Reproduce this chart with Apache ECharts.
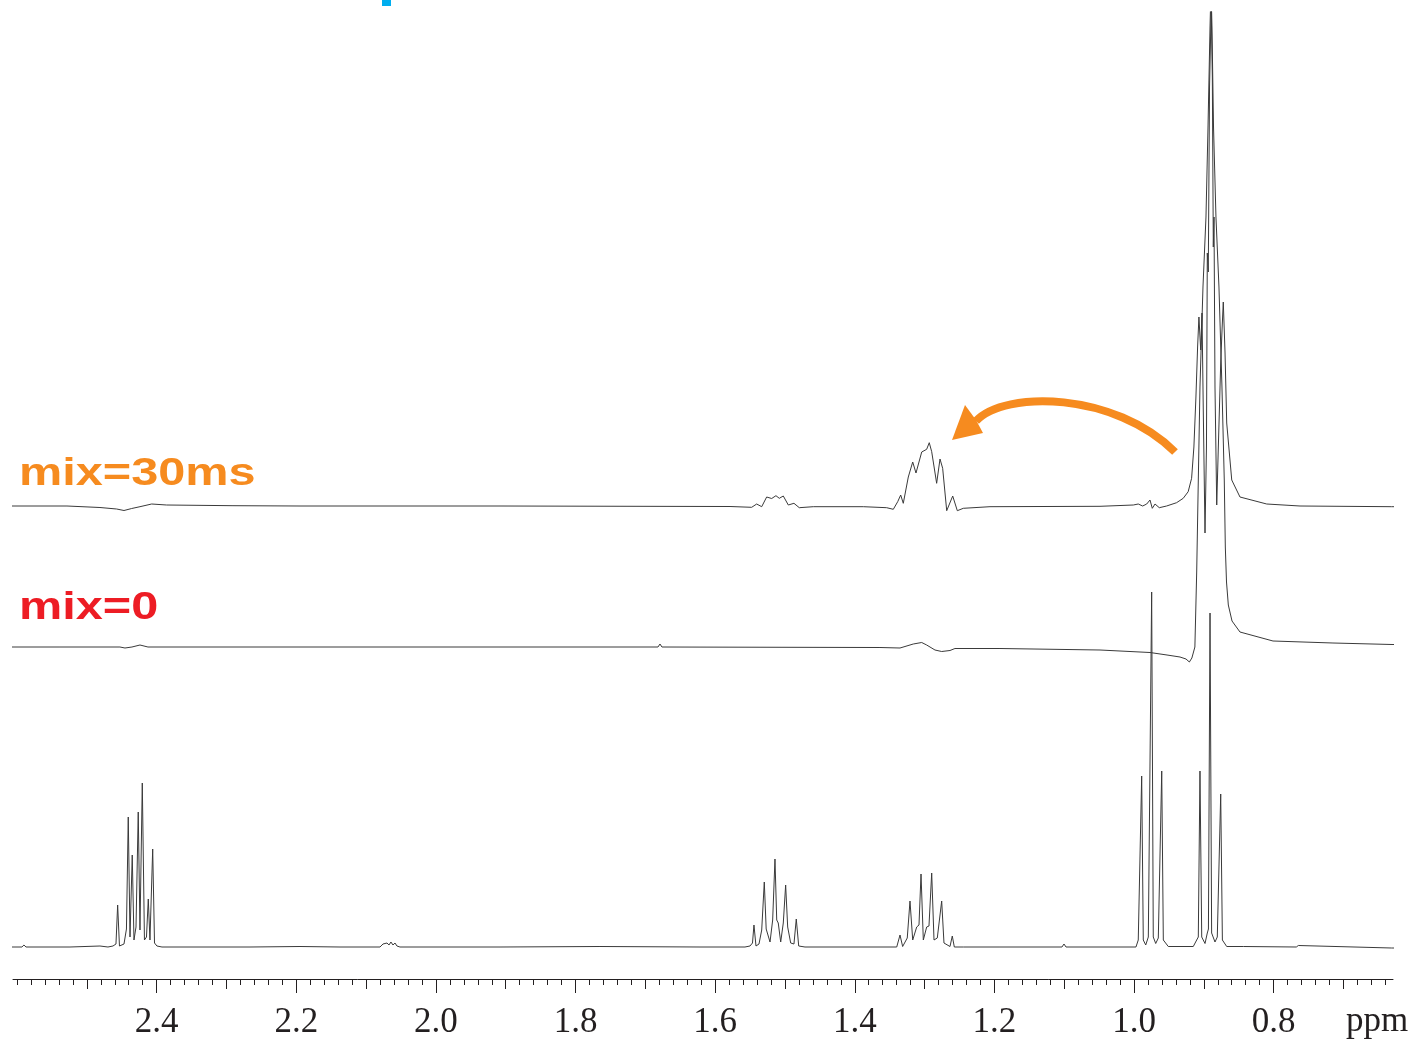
<!DOCTYPE html>
<html>
<head>
<meta charset="utf-8">
<title>Selective TOCSY stack</title>
<script src="https://cdn.jsdelivr.net/npm/echarts@6/dist/echarts.min.js"></script>
<style>
  html, body { margin: 0; padding: 0; background: #ffffff; }
  #chart { width: 1418px; height: 1044px; }
</style>
</head>
<body>
<div id="chart"></div>
<script>
// Chemical-shift axis (ppm), drawn high -> low from left to right
const ppmMin = 0.6290;
const ppmMax = 2.6058;
const majorTicks = [2.4, 2.2, 2.0, 1.8, 1.6, 1.4, 1.2, 1.0, 0.8];
const mediumTicks = [2.5, 2.3, 2.1, 1.9, 1.7, 1.5, 1.3, 1.1, 0.9, 0.7];
const minorTicks = [2.60,2.58,2.56,2.54,2.52,2.50,2.48,2.46,2.44,2.42,2.40,2.38,2.36,2.34,2.32,2.30,2.28,2.26,2.24,2.22,
  2.20,2.18,2.16,2.14,2.12,2.10,2.08,2.06,2.04,2.02,2.00,1.98,1.96,1.94,1.92,1.90,1.88,1.86,1.84,1.82,
  1.80,1.78,1.76,1.74,1.72,1.70,1.68,1.66,1.64,1.62,1.60,1.58,1.56,1.54,1.52,1.50,1.48,1.46,1.44,1.42,
  1.40,1.38,1.36,1.34,1.32,1.30,1.28,1.26,1.24,1.22,1.20,1.18,1.16,1.14,1.12,1.10,1.08,1.06,1.04,1.02,
  1.00,0.98,0.96,0.94,0.92,0.90,0.88,0.86,0.84,0.82,0.80,0.78,0.76,0.74,0.72,0.70,0.68,0.66,0.64];

// Trace labels
const labelMix30 = 'mix=30ms';
const labelMix0 = 'mix=0';
const axisUnit = 'ppm';

// Selective TOCSY, 30 ms mixing: [ppm, intensity]
const traceMix30 = [
  [2.6173,1],[2.5285,1],[2.4812,-0.5],[2.4573,-2],[2.4468,-3.5],[2.4358,-1.5],[2.4239,0.3],[2.4072,3],
  [2.3857,2],[2.2907,1.3],[2.1947,1],[1.9082,1],[1.5787,0.5],[1.5477,-0.3],[1.5405,3],[1.5333,0.3],
  [1.5262,10],[1.5190,8.5],[1.5129,11.3],[1.5081,8.7],[1.5024,11],[1.4952,2],[1.4871,3.7],[1.4795,-0.7],
  [1.4594,0.3],[1.3878,0.3],[1.3543,-0.7],[1.3448,-2.3],[1.3385,5.3],[1.3342,12],[1.3305,3.7],[1.3233,30],
  [1.3170,45],[1.3123,34],[1.3041,55],[1.2970,57.7],[1.2933,64.3],[1.2898,55.3],[1.2827,23.7],[1.2779,48],
  [1.2741,38.7],[1.2683,-3.7],[1.2597,11],[1.2531,-3.7],[1.2445,-1.3],[1.2063,0.3],[1.0487,0.7],[1.0010,2],
  [0.9939,3],[0.9914,5],[0.9876,1],[0.9818,3],[0.9771,7],[0.9738,-1.3],[0.9699,3],[0.9638,-0.7],
  [0.9533,1],[0.9390,4.3],[0.9295,8.7],[0.9224,15.3],[0.9175,28.7],[0.9142,60],[0.9113,110],[0.9089,160],
  [0.9070,190],[0.9045,157],[0.9026,194],[0.9007,94],[0.8983,-26],[0.8962,60],[0.8950,254],[0.8936,235],
  [0.8918,420],[0.8894,500],[0.8878,430],[0.8864,260],[0.8854,290],[0.8840,120],[0.8815,2],[0.8792,60],
  [0.8758,144],[0.8739,177],[0.8721,205],[0.8696,154],[0.8672,84],[0.8600,27],[0.8482,10],[0.8099,3],
  [0.7622,1],[0.6309,0.3],[0.6190,0.3]
];

// Selective TOCSY, no mixing: [ppm, intensity]
const traceMix0 = [
  [2.6173,0],[2.5385,0],[2.4526,0],[2.4454,-1],[2.4354,0],[2.4239,2],[2.4125,0],[2.1947,0],
  [1.9082,0],[1.6819,0],[1.6790,3],[1.6762,0],[1.3639,-0.5],[1.3352,-1],[1.3162,3],[1.3041,4.5],
  [1.2970,2],[1.2851,-3],[1.2755,-4.5],[1.2636,-3.5],[1.2565,-1.5],[1.1920,-1.5],[1.0487,-3],[0.9771,-5.5],
  [0.9527,-8],[0.9341,-10],[0.9255,-12],[0.9207,-15],[0.9171,-11],[0.9128,0],[0.9102,75],[0.9079,167],
  [0.9055,260],[0.9012,360],[0.8969,430],[0.8940,520],[0.8911,620],[0.8897,660],[0.8883,620],[0.8861,520],
  [0.8826,430],[0.8783,360],[0.8740,260],[0.8707,167],[0.8692,100],[0.8675,65],[0.8649,42],[0.8596,26],
  [0.8482,15],[0.8009,6],[0.7150,4],[0.6304,2.5],[0.6190,2.5]
];

// 1D proton reference spectrum: [ppm, intensity]
const traceRef = [
  [2.6173,0],[2.5930,0],[2.5901,2],[2.5872,0],[2.5242,0],[2.4812,1],[2.4698,0],[2.4626,1],
  [2.4583,3],[2.4559,42],[2.4533,1],[2.4468,3],[2.4433,18],[2.4407,130],[2.4382,10],[2.4350,92],
  [2.4325,7],[2.4296,20],[2.4264,135],[2.4239,17],[2.4206,164],[2.4175,7],[2.4146,10],[2.4120,48],
  [2.4096,7],[2.4057,98],[2.4031,4],[2.3996,1],[2.3924,0],[2.2663,0],[2.1947,0.5],[2.1374,0],
  [2.0801,0],[2.0758,3],[2.0730,1],[2.0701,4],[2.0672,2],[2.0644,5],[2.0615,2],[2.0586,4],
  [2.0558,1],[2.0515,0],[1.9082,0],[1.7650,0.5],[1.6217,0],[1.5573,0],[1.5501,1],[1.5465,4],
  [1.5444,22],[1.5415,1],[1.5372,3],[1.5333,17],[1.5296,65],[1.5269,18],[1.5253,19],[1.5214,5],
  [1.5176,27],[1.5143,88],[1.5118,27],[1.5096,24],[1.5061,5],[1.5024,24],[1.4990,62],[1.4961,20],
  [1.4918,4],[1.4871,3],[1.4838,28],[1.4803,1],[1.4713,0],[1.4068,0],[1.3399,0],[1.3352,12],
  [1.3314,0.5],[1.3248,9],[1.3209,46],[1.3170,7],[1.3113,20],[1.3080,22],[1.3051,73],[1.3018,7],
  [1.2970,20],[1.2937,21],[1.2898,74],[1.2865,7],[1.2818,9],[1.2755,46],[1.2722,4],[1.2636,0.5],
  [1.2603,11],[1.2574,0],[1.2445,0],[1.1920,0],[1.1032,0],[1.1003,3],[1.0974,0],[1.0487,0],
  [0.9972,0],[0.9939,7],[0.9914,8],[0.9890,171],[0.9867,7],[0.9832,2],[0.9795,10],[0.9771,12],
  [0.9747,355],[0.9724,10],[0.9689,3.5],[0.9652,9],[0.9628,10],[0.9603,176],[0.9580,7],[0.9509,0.5],
  [0.9341,0.5],[0.9151,0.5],[0.9102,7],[0.9079,10],[0.9055,176],[0.9030,10],[0.8983,3.5],[0.8950,14],
  [0.8934,18],[0.8911,334],[0.8888,14],[0.8840,5],[0.8807,10],[0.8783,12],[0.8758,153],[0.8734,7],
  [0.8672,0.5],[0.8434,0.5],[0.7675,0],[0.7646,1.5],[0.7618,0],[0.6309,-1],[0.6190,-1]
];

const inkColor = '#231f20';
const traceColor = '#3a3a3a';
const orange = '#f68b1f';
const red = '#ed1c24';

const chart = echarts.init(document.getElementById('chart'), null, { renderer: 'canvas' });

function tickAxis(values, len, withLabels) {
  return {
    type: 'value', gridIndex: 0, position: 'bottom', inverse: true,
    min: ppmMin, max: ppmMax,
    axisLine: { show: withLabels, onZero: false, lineStyle: { color: inkColor, width: 1 } },
    axisTick: { show: true, customValues: values, length: len, inside: false,
      lineStyle: { color: inkColor, width: 1 } },
    axisLabel: withLabels ? {
      show: true, customValues: values, margin: 26,
      formatter: v => v.toFixed(1),
      fontFamily: 'Liberation Serif', fontSize: 35, color: inkColor
    } : { show: false },
    splitLine: { show: false }, minorTick: { show: false }
  };
}

function stackAxis(lo, hi) {
  return { type: 'value', gridIndex: 0, min: lo, max: hi, show: false,
    axisLine: { show: false, onZero: false }, axisTick: { show: false }, axisLabel: { show: false },
    splitLine: { show: false } };
}

function trace(data, yIdx) {
  return {
    type: 'line', xAxisIndex: 0, yAxisIndex: yIdx, data: data,
    showSymbol: false, symbol: 'none', smooth: false, clip: true,
    lineStyle: { color: traceColor, width: 1 }, silent: true
  };
}

chart.setOption({
  animation: false,
  backgroundColor: '#ffffff',
  grid: { left: 13, right: 25, top: 12, bottom: 65, containLabel: false },
  xAxis: [ tickAxis(majorTicks, 14, true), tickAxis(mediumTicks, 10, false), tickAxis(minorTicks, 6, false) ],
  // three vertically offset intensity scales, one per stacked trace
  yAxis: [ stackAxis(-32, 935), stackAxis(-332, 635), stackAxis(-472, 495) ],
  series: [ trace(traceRef, 0), trace(traceMix0, 1), trace(traceMix30, 2) ],
  graphic: [
    { type: 'rect', shape: { x: 382, y: 0, width: 9, height: 6 }, style: { fill: '#00aeef' }, silent: true },
    { type: 'text', x: 19, y: 475, scaleX: 1.28, scaleY: 1, silent: true,
      style: { text: labelMix30, fill: orange, fontFamily: 'Liberation Sans', fontWeight: 'bold', fontSize: 38,
        verticalAlign: 'middle', align: 'left' } },
    { type: 'text', x: 19, y: 609, scaleX: 1.28, scaleY: 1, silent: true,
      style: { text: labelMix0, fill: red, fontFamily: 'Liberation Sans', fontWeight: 'bold', fontSize: 38,
        verticalAlign: 'middle', align: 'left' } },
    { type: 'text', x: 1346, y: 1022, silent: true,
      style: { text: axisUnit, fill: inkColor, fontFamily: 'Liberation Serif', fontSize: 35,
        verticalAlign: 'middle', align: 'left' } },
    // transfer arrow from the 0.89 ppm methyl to the 1.30 ppm multiplet
    { type: 'bezierCurve', silent: true,
      shape: { x1: 1175, y1: 452, cpx1: 1115, cpy1: 392, cpx2: 1005, cpy2: 390, x2: 976, y2: 421 },
      style: { stroke: orange, lineWidth: 8, fill: null, lineCap: 'butt' } },
    { type: 'polygon', silent: true,
      shape: { points: [[952, 440], [965, 405], [976, 420], [983, 433]] },
      style: { fill: orange } }
  ]
});
</script>
</body>
</html>
